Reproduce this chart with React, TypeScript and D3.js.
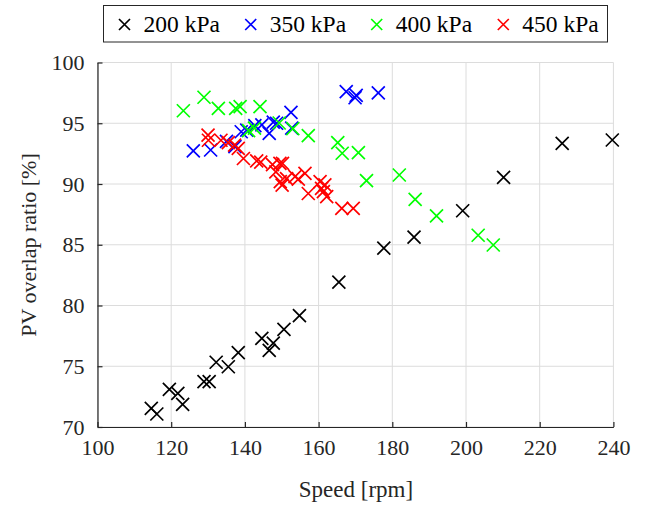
import * as d3 from "d3";
import { useEffect, useRef } from "react";

// 200 kPa
const speed200 = [114.6, 116.1, 119.5, 121.8, 123.1, 128.9, 130.3, 132.2, 135.5, 138.2, 144.6, 147.7, 146.6, 150.6, 154.8, 165.5, 177.7, 185.9, 199.1, 210.2, 226.1, 239.7];
const ratio200 = [71.54, 71.07, 73.1, 72.77, 71.87, 73.73, 73.73, 75.33, 74.96, 76.12, 77.3, 76.9, 76.3, 78.04, 79.16, 81.93, 84.73, 85.62, 87.8, 90.55, 93.35, 93.62];

// 350 kPa
const speed350 = [126.0, 130.7, 135.0, 137.3, 139.0, 140.5, 142.7, 144.6, 146.6, 147.7, 148.6, 152.5, 152.7, 167.5, 169.9, 170.2, 176.2];
const ratio350 = [92.72, 92.8, 93.5, 93.07, 94.3, 94.44, 94.8, 94.86, 94.17, 95.1, 95.0, 95.9, 94.6, 97.6, 97.1, 97.3, 97.5];

// 400 kPa
const speed400 = [123.3, 128.9, 132.8, 137.5, 138.7, 144.1, 141.0, 142.6, 149.3, 153.0, 157.2, 165.2, 166.4, 170.8, 173.0, 181.9, 186.2, 192.0, 203.3, 207.4];
const ratio400 = [96.03, 97.14, 96.23, 96.23, 96.37, 96.37, 94.4, 94.6, 95.02, 94.55, 93.98, 93.4, 92.53, 92.58, 90.27, 90.74, 88.74, 87.37, 85.78, 84.98];

// 450 kPa
const speed450 = [130.0, 130.1, 133.5, 135.5, 137.2, 138.2, 139.6, 143.2, 144.3, 147.5, 148.4, 149.5, 150.2, 149.6, 150.1, 151.3, 153.6, 154.5, 156.3, 157.2, 160.4, 160.8, 161.7, 161.3, 162.2, 166.3, 169.4];
const ratio450 = [94.03, 93.6, 93.6, 93.4, 93.2, 92.94, 92.1, 91.9, 91.8, 91.6, 91.0, 91.7, 91.7, 90.2, 89.9, 90.45, 90.6, 90.4, 90.88, 89.22, 90.19, 89.64, 89.92, 89.37, 88.96, 88.0, 88.0];

const seriesNames = ["200 kPa", "350 kPa", "400 kPa", "450 kPa"];
const seriesColors = ["#000000", "#0000ff", "#00ff00", "#ff0000"];
const xTicks = [100, 120, 140, 160, 180, 200, 220, 240];
const yTicks = [70, 75, 80, 85, 90, 95, 100];

const FONT = "'Liberation Serif', 'Times New Roman', serif";

function crossPath(cx: number, cy: number, r: number) {
  return `M${cx - r},${cy - r}L${cx + r},${cy + r}M${cx - r},${cy + r}L${cx + r},${cy - r}`;
}

function App() {
  const svgRef = useRef<SVGSVGElement | null>(null);

  useEffect(() => {
    const svg = d3.select(svgRef.current);
    svg.selectAll("*").remove();

    const xScale = d3.scaleLinear().domain([100, 240]).range([97.5, 613.4]);
    const yScale = d3.scaleLinear().domain([70, 100]).range([427, 62.5]);

    // grid
    const grid = svg.append("g");
    grid.selectAll(".vg")
      .data(xTicks)
      .join("line")
      .attr("x1", (d) => xScale(d))
      .attr("x2", (d) => xScale(d))
      .attr("y1", yScale(70))
      .attr("y2", yScale(100))
      .attr("stroke", "#dcdcdc")
      .attr("stroke-width", 1);
    grid.selectAll(".hg")
      .data(yTicks)
      .join("line")
      .attr("x1", xScale(100))
      .attr("x2", xScale(240))
      .attr("y1", (d) => yScale(d))
      .attr("y2", (d) => yScale(d))
      .attr("stroke", "#dcdcdc")
      .attr("stroke-width", 1);

    // axes
    const xAxis = d3.axisBottom(xScale).tickValues(xTicks).tickSizeInner(-5).tickSizeOuter(0).tickPadding(12);
    const gx = svg.append("g").attr("transform", `translate(0,${yScale(70)})`).call(xAxis);
    const yAxis = d3.axisLeft(yScale).tickValues(yTicks).tickSizeInner(-5).tickSizeOuter(0).tickPadding(13);
    const gy = svg.append("g").attr("transform", `translate(${xScale(100)},0)`).call(yAxis);
    [gx, gy].forEach((g) => {
      g.select(".domain").attr("stroke", "#262626").attr("stroke-width", 1.2);
      g.selectAll(".tick line").attr("stroke", "#262626").attr("stroke-width", 1.2);
      g.selectAll(".tick text")
        .attr("fill", "#262626")
        .style("font-family", FONT)
        .style("font-size", "22px");
    });

    // points
    const speeds = [speed200, speed350, speed400, speed450];
    const ratios = [ratio200, ratio350, ratio400, ratio450];
    const pts = svg.append("g");
    speeds.forEach((sp, i) => {
      const rows = sp.map((s, j) => ({ s, r: ratios[i][j] }));
      pts.append("g")
        .selectAll("path")
        .data(rows)
        .join("path")
        .attr("d", (d) => crossPath(xScale(d.s), yScale(d.r), 6.5))
        .attr("fill", "none")
        .attr("stroke", seriesColors[i])
        .attr("stroke-width", 1.7);
    });

    // labels
    svg.append("text")
      .attr("x", 356)
      .attr("y", 497)
      .attr("text-anchor", "middle")
      .attr("fill", "#262626")
      .style("font-family", FONT)
      .style("font-size", "23px")
      .text("Speed [rpm]");
    svg.append("text")
      .attr("transform", `translate(36,245) rotate(-90)`)
      .attr("text-anchor", "middle")
      .attr("fill", "#262626")
      .style("font-family", FONT)
      .style("font-size", "22px")
      .text("PV overlap ratio [%]");

    // legend
    const lg = svg.append("g");
    lg.append("rect")
      .attr("x", 103.5)
      .attr("y", 5.5)
      .attr("width", 504)
      .attr("height", 36.5)
      .attr("fill", "#fff")
      .attr("stroke", "#262626")
      .attr("stroke-width", 1);
    const markerX = [124.5, 250.7, 376.7, 503.3];
    seriesNames.forEach((name, i) => {
      lg.append("path")
        .attr("d", crossPath(markerX[i], 24.5, 5.5))
        .attr("stroke", seriesColors[i])
        .attr("stroke-width", 1.7);
      lg.append("text")
        .attr("x", markerX[i] + 19)
        .attr("y", 32)
        .attr("fill", "#000")
        .style("font-family", FONT)
        .style("font-size", "23.5px")
        .text(name);
    });
  }, []);

  return (
    <svg
      ref={svgRef}
      width={646}
      height={506}
      style={{ position: "absolute", left: 0, top: 0, background: "#fff" }}
    ></svg>
  );
}

export default App;
